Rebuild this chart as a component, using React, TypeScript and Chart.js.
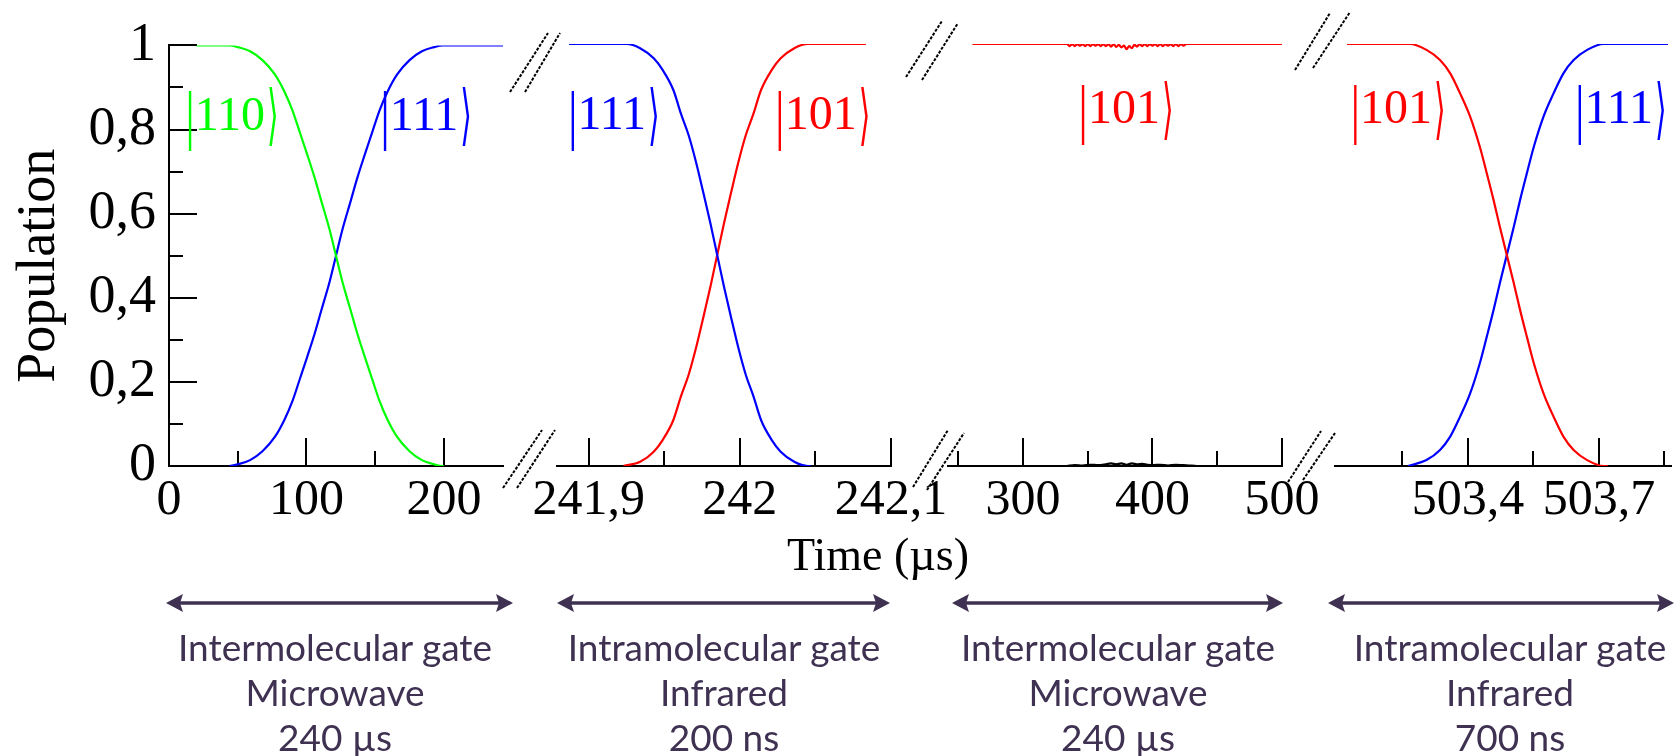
import React, { useEffect, useRef } from 'react';
import { Chart, registerables } from 'chart.js';

Chart.register(...registerables);

const FIG_W = 1677;
const FIG_H = 756;
const PLOT_TOP = 44;
const PLOT_BOTTOM = 466;
const X_AXIS_H = 70;

const SERIF = '"Liberation Serif", "Times New Roman", serif';
const KET_FONT = '48px "Liberation Serif", "DejaVu Serif", serif';
const GATE_COLOR = '#3f3151';

const GREEN = '#00ff00';
const BLUE = '#0000ff';
const RED = '#ff0000';
const BLACK = '#000000';

// ---------- Data (time in µs, population 0..1) ----------
// Panel 1: intermolecular gate, microwave
const p1Time110 = [20, 44, 50, 59, 68, 77, 84, 90, 95, 100.5, 106, 111, 117, 121.5, 126, 132, 137, 142.5, 148, 153, 159, 166, 175, 184, 193, 199, 200];
const p1Pop110 = [1, 1, 0.996, 0.986, 0.965, 0.931, 0.89, 0.844, 0.795, 0.741, 0.685, 0.628, 0.56, 0.5, 0.44, 0.372, 0.315, 0.259, 0.205, 0.156, 0.11, 0.069, 0.035, 0.014, 0.004, 0, 0];
const p1Time111 = [44, 50, 59, 68, 77, 84, 90, 95, 100.5, 106, 111, 117, 121.5, 126, 132, 137, 142.5, 148, 153, 159, 166, 175, 184, 193, 199, 243];
const p1Pop111 = [0, 0.004, 0.014, 0.035, 0.069, 0.11, 0.156, 0.205, 0.259, 0.315, 0.372, 0.44, 0.5, 0.56, 0.628, 0.685, 0.741, 0.795, 0.844, 0.89, 0.931, 0.965, 0.986, 0.996, 1, 1];

// Panel 2: intramolecular gate, infrared
const p2Time111 = [241.887, 241.925, 241.934, 241.943, 241.949, 241.956, 241.961, 241.966, 241.971, 241.976, 241.9805, 241.985, 241.9895, 241.994, 241.999, 242.004, 242.009, 242.014, 242.021, 242.027, 242.036, 242.045, 242.047];
const p2Pop111 = [1, 1, 0.99, 0.966, 0.938, 0.891, 0.835, 0.785, 0.72, 0.645, 0.575, 0.5, 0.425, 0.355, 0.28, 0.215, 0.165, 0.109, 0.062, 0.034, 0.01, 0, 0];
const p2Time101 = [241.923, 241.934, 241.943, 241.949, 241.956, 241.961, 241.966, 241.971, 241.976, 241.9805, 241.985, 241.9895, 241.994, 241.999, 242.004, 242.009, 242.014, 242.021, 242.027, 242.036, 242.045, 242.0834];
const p2Pop101 = [0, 0.01, 0.034, 0.062, 0.109, 0.165, 0.215, 0.28, 0.355, 0.425, 0.5, 0.575, 0.645, 0.72, 0.785, 0.835, 0.891, 0.938, 0.966, 0.99, 1, 1];

// Panel 3: intermolecular gate, microwave (state |101> stays)
const p3Time101 = [261, 334, 336, 338, 340, 342, 344, 346, 348, 350, 352, 354, 356, 358, 360, 362, 364, 366, 368, 370, 372, 374, 376, 378, 380, 382, 384, 386, 388, 390, 392, 394, 396, 398, 400, 402, 404, 406, 408, 410, 412, 414, 416, 418, 420, 422, 424, 426, 500];
const p3Pop101 = [1, 1, 0.995, 1, 0.995, 1, 0.996, 1, 0.995, 1, 0.995, 1, 0.996, 1, 0.995, 1, 0.995, 1, 0.994, 1, 0.993, 0.998, 0.992, 0.996, 0.988, 0.995, 0.99, 0.998, 0.994, 1, 0.995, 1, 0.995, 1, 0.996, 1, 0.995, 1, 0.995, 1, 0.996, 1, 0.995, 1, 0.995, 1, 0.996, 1, 1];
const p3TimeLeak = [334, 340, 346, 352, 358, 364, 368, 372, 376, 380, 384, 388, 392, 396, 400, 406, 412, 418, 424, 430, 434];
const p3PopLeak = [0, 0.002, 0.001, 0.003, 0.002, 0.004, 0.006, 0.004, 0.006, 0.003, 0.006, 0.004, 0.005, 0.003, 0.002, 0.003, 0.001, 0.003, 0.002, 0.001, 0];

// Panel 4: intramolecular gate, infrared
const p4Time101 = [503.123, 503.267, 503.305, 503.336, 503.359, 503.382, 503.405, 503.427, 503.443, 503.458, 503.473, 503.489, 503.505, 503.52, 503.535, 503.551, 503.573, 503.596, 503.619, 503.642, 503.673, 503.711, 503.72];
const p4Pop101 = [1, 1, 0.986, 0.962, 0.931, 0.883, 0.828, 0.757, 0.694, 0.633, 0.567, 0.5, 0.433, 0.367, 0.306, 0.243, 0.172, 0.117, 0.069, 0.038, 0.014, 0, 0];
const p4Time111 = [503.263, 503.305, 503.336, 503.359, 503.382, 503.405, 503.427, 503.443, 503.458, 503.473, 503.489, 503.505, 503.52, 503.535, 503.551, 503.573, 503.596, 503.619, 503.642, 503.673, 503.711, 503.858];
const p4Pop111 = [0, 0.014, 0.038, 0.069, 0.117, 0.172, 0.243, 0.306, 0.367, 0.433, 0.5, 0.567, 0.633, 0.694, 0.757, 0.828, 0.883, 0.931, 0.962, 0.986, 1, 1];

// ---------- Ticks ----------
const yMajorTicks = [0, 0.2, 0.4, 0.6, 0.8, 1];
const yMinorTicks = [0.1, 0.3, 0.5, 0.7, 0.9];
const p1MajorTicks = [0, 100, 200];
const p1MinorTicks = [50, 150];
const p2MajorTicks = [241.9, 242, 242.1];
const p2MinorTicks = [241.95, 242.05];
const p3MajorTicks = [300, 400, 500];
const p3MinorTicks = [250, 350, 450];
const p4MajorTicks = [503.4, 503.7];
const p4MinorTicks = [503.25, 503.55, 503.85];

// ---------- Labels ----------
const yTitle = 'Population';
const xTitle = 'Time (µs)';
const gateLabels = [
  ['Intermolecular gate', 'Microwave', '240 µs'],
  ['Intramolecular gate', 'Infrared', '200 ns'],
  ['Intermolecular gate', 'Microwave', '240 µs'],
  ['Intramolecular gate', 'Infrared', '700 ns'],
];

type Series = { t: number[]; p: number[]; color: string };
type Ket = { x: number; y: number; text: string; color: string };
type Panel = {
  left: number; right: number; min: number; max: number;
  majors: number[]; minors: number[]; showY: boolean;
  series: Series[]; kets: Ket[];
};

const panels: Panel[] = [
  {
    left: 169, right: 503, min: 0, max: 243, majors: p1MajorTicks, minors: p1MinorTicks, showY: true,
    series: [
      { t: p1Time110, p: p1Pop110, color: GREEN },
      { t: p1Time111, p: p1Pop111, color: BLUE },
    ],
    kets: [
      { x: 45.8, y: 0.83, text: '|110⟩', color: GREEN },
      { x: 187, y: 0.83, text: '|111⟩', color: BLUE },
    ],
  },
  {
    left: 557, right: 891, min: 241.879, max: 242.1, majors: p2MajorTicks, minors: p2MinorTicks, showY: false,
    series: [
      { t: p2Time111, p: p2Pop111, color: BLUE },
      { t: p2Time101, p: p2Pop101, color: RED },
    ],
    kets: [
      { x: 241.9166, y: 0.828, text: '|111⟩', color: BLUE },
      { x: 242.0548, y: 0.828, text: '|101⟩', color: RED },
    ],
  },
  {
    left: 948, right: 1282, min: 242.1, max: 500, majors: p3MajorTicks, minors: p3MinorTicks, showY: false,
    series: [
      { t: p3Time101, p: p3Pop101, color: RED },
      { t: p3TimeLeak, p: p3PopLeak, color: BLACK },
    ],
    kets: [{ x: 379.5, y: 0.843, text: '|101⟩', color: RED }],
  },
  {
    left: 1335, right: 1671, min: 503.0955, max: 503.865, majors: p4MajorTicks, minors: p4MinorTicks, showY: false,
    series: [
      { t: p4Time101, p: p4Pop101, color: RED },
      { t: p4Time111, p: p4Pop111, color: BLUE },
    ],
    kets: [
      { x: 503.24, y: 0.843, text: '|101⟩', color: RED },
      { x: 503.75, y: 0.843, text: '|111⟩', color: BLUE },
    ],
  },
];

// Figure decorations (layout only)
const breakMarks = [
  [510, 92, 548, 33], [525, 92, 560, 33],
  [503, 488, 542, 430], [517, 488, 555, 430],
  [906, 77, 942, 21], [922, 80, 958, 23],
  [913, 487, 948, 430], [927, 490, 964, 433],
  [1295, 70, 1330, 13], [1313, 68, 1350, 12],
  [1288, 482, 1321, 431], [1303, 480, 1335, 433],
];
const arrows = [
  { x1: 166, x2: 513 },
  { x1: 557, x2: 890 },
  { x1: 952, x2: 1283 },
  { x1: 1328, x2: 1674 },
];
const ARROW_Y = 603;
const gateCenters = [335, 724, 1118, 1510];

const fmt = (v: number) => String(Math.round(v * 10) / 10).replace('.', ',');

function ticksPlugin(panel: Panel) {
  return {
    id: 'inwardTicks',
    beforeDatasetsDraw(chart: any) {
      const { ctx, chartArea, scales } = chart;
      ctx.save();
      ctx.strokeStyle = '#000';
      ctx.lineWidth = 2;
      const xt = (vals: number[], len: number) => vals.forEach((v) => {
        const px = Math.round(scales.x.getPixelForValue(v));
        ctx.beginPath();
        ctx.moveTo(px, chartArea.bottom);
        ctx.lineTo(px, chartArea.bottom - len);
        ctx.stroke();
      });
      xt(panel.majors, 28);
      xt(panel.minors, 15);
      if (panel.showY) {
        const yt = (vals: number[], len: number) => vals.forEach((v) => {
          const py = Math.round(scales.y.getPixelForValue(v));
          ctx.beginPath();
          ctx.moveTo(chartArea.left, py);
          ctx.lineTo(chartArea.left + len, py);
          ctx.stroke();
        });
        yt(yMajorTicks, 28);
        yt(yMinorTicks, 14);
        // y axis title
        ctx.save();
        ctx.translate(40, (chartArea.top + chartArea.bottom) / 2 + 10);
        ctx.rotate(-Math.PI / 2);
        ctx.font = '54px ' + SERIF;
        ctx.fillStyle = '#000';
        ctx.textAlign = 'center';
        ctx.textBaseline = 'middle';
        ctx.fillText(yTitle, 0, 0);
        ctx.restore();
      }
      ctx.restore();
    },
  };
}

// draws a ket |xyz⟩ with tall delimiters, centred at (cx, cy)
function drawKet(ctx: CanvasRenderingContext2D, text: string, cx: number, cy: number, color: string) {
  const inner = text.slice(1, -1);
  ctx.font = KET_FONT;
  ctx.fillStyle = color;
  ctx.textAlign = 'left';
  ctx.textBaseline = 'middle';
  const barW = ctx.measureText('|').width;
  const innerW = ctx.measureText(inner).width;
  const angW = ctx.measureText('⟩').width * 0.62;
  const total = barW + innerW + angW + 2;
  let x = cx - total / 2;
  ctx.save();
  ctx.translate(x, cy + 3);
  ctx.scale(1, 1.38);
  ctx.fillText('|', 0, 0);
  ctx.restore();
  x += barW;
  ctx.fillText(inner, x, cy);
  x += innerW + 2;
  ctx.save();
  ctx.translate(x, cy + 3);
  ctx.scale(0.62, 1.38);
  ctx.fillText('⟩', 0, 0);
  ctx.restore();
}

function ketsPlugin(panel: Panel) {
  return {
    id: 'kets',
    afterDatasetsDraw(chart: any) {
      const { ctx, scales } = chart;
      ctx.save();
      panel.kets.forEach((k) => {
        drawKet(ctx, k.text, scales.x.getPixelForValue(k.x), scales.y.getPixelForValue(k.y), k.color);
      });
      ctx.restore();
    },
  };
}

const decorPlugin = {
  id: 'decor',
  afterDraw(chart: any) {
    const { ctx } = chart;
    ctx.save();
    ctx.strokeStyle = '#000';
    ctx.lineWidth = 2;
    ctx.setLineDash([3, 1.5]);
    breakMarks.forEach(([x1, y1, x2, y2]) => {
      ctx.beginPath();
      ctx.moveTo(x1, y1);
      ctx.lineTo(x2, y2);
      ctx.stroke();
    });
    ctx.setLineDash([]);
    ctx.fillStyle = '#000';
    ctx.font = '46px ' + SERIF;
    ctx.textAlign = 'center';
    ctx.textBaseline = 'alphabetic';
    ctx.fillText(xTitle, 878, 570);
    ctx.restore();
  },
};

function buildConfig(panel: Panel, withDecor: boolean): any {
  const plugins: any[] = [ticksPlugin(panel), ketsPlugin(panel)];
  if (withDecor) plugins.push(decorPlugin);
  return {
    type: 'line',
    data: {
      datasets: panel.series.map((s) => ({
        data: s.t.map((x, i) => ({ x, y: s.p[i] })),
        borderColor: s.color,
        borderWidth: 2.2,
        pointRadius: 0,
        fill: false,
        cubicInterpolationMode: 'monotone',
      })),
    },
    options: {
      animation: false,
      responsive: false,
      devicePixelRatio: 1,
      events: [],
      layout: {
        padding: {
          left: panel.showY ? 0 : panel.left,
          right: FIG_W - panel.right,
          top: PLOT_TOP,
          bottom: FIG_H - PLOT_BOTTOM - X_AXIS_H,
        },
      },
      plugins: { legend: { display: false }, tooltip: { enabled: false }, title: { display: false } },
      scales: {
        x: {
          type: 'linear',
          min: panel.min,
          max: panel.max,
          afterFit: (s: any) => { s.height = X_AXIS_H; },
          afterBuildTicks: (s: any) => { s.ticks = panel.majors.map((v) => ({ value: v })); },
          grid: { display: false, drawTicks: false },
          border: { display: true, color: '#000', width: 2 },
          ticks: {
            autoSkip: false, maxRotation: 0, minRotation: 0, padding: 5, color: '#000',
            font: { family: SERIF, size: 50 },
            callback: (v: number) => fmt(v),
          },
        },
        y: {
          type: 'linear',
          display: panel.showY,
          min: 0,
          max: 1,
          afterFit: (s: any) => { s.width = panel.showY ? panel.left : 0; },
          afterBuildTicks: (s: any) => { s.ticks = yMajorTicks.map((v) => ({ value: v })); },
          grid: { display: false, drawTicks: false },
          border: { display: panel.showY, color: '#000', width: 2 },
          title: { display: false },
          ticks: {
            autoSkip: false, padding: 13, color: '#000',
            font: { family: SERIF, size: 54 },
            callback: (v: number) => fmt(v),
          },
        },
      },
    },
    plugins,
  };
}

function PanelChart({ panel, withDecor }: { panel: Panel; withDecor: boolean }) {
  const ref = useRef<HTMLCanvasElement | null>(null);
  useEffect(() => {
    if (!ref.current) return;
    const chart = new Chart(ref.current, buildConfig(panel, withDecor));
    return () => chart.destroy();
  }, [panel, withDecor]);
  return (
    <canvas
      ref={ref}
      width={FIG_W}
      height={FIG_H}
      style={{ position: 'absolute', left: 0, top: 0, width: FIG_W, height: FIG_H }}
    />
  );
}

export default function App() {
  return (
    <div style={{ position: 'absolute', left: 0, top: 0, width: FIG_W, height: FIG_H, overflow: 'hidden', background: '#fff' }}>
      {panels.map((p, i) => (
        <PanelChart key={i} panel={p} withDecor={i === panels.length - 1} />
      ))}
      <svg width={FIG_W} height={FIG_H} style={{ position: 'absolute', left: 0, top: 0 }}>
        {arrows.map((a, i) => (
          <g key={i} fill={GATE_COLOR} stroke="none">
            <line x1={a.x1 + 10} y1={ARROW_Y} x2={a.x2 - 10} y2={ARROW_Y} stroke={GATE_COLOR} strokeWidth={3.5} />
            <polygon points={`${a.x1},${ARROW_Y} ${a.x1 + 17},${ARROW_Y - 9} ${a.x1 + 14},${ARROW_Y} ${a.x1 + 17},${ARROW_Y + 9}`} />
            <polygon points={`${a.x2},${ARROW_Y} ${a.x2 - 17},${ARROW_Y - 9} ${a.x2 - 14},${ARROW_Y} ${a.x2 - 17},${ARROW_Y + 9}`} />
          </g>
        ))}
      </svg>
      {gateLabels.map((lines, i) => (
        <div
          key={i}
          style={{
            position: 'absolute', left: gateCenters[i] - 200, top: 624, width: 400,
            textAlign: 'center', fontFamily: 'Lato, "Noto Sans", sans-serif', fontSize: 37,
            lineHeight: '45px', color: GATE_COLOR, whiteSpace: 'nowrap',
          }}
        >
          {lines.map((l, j) => (<div key={j}>{l}</div>))}
        </div>
      ))}
    </div>
  );
}
